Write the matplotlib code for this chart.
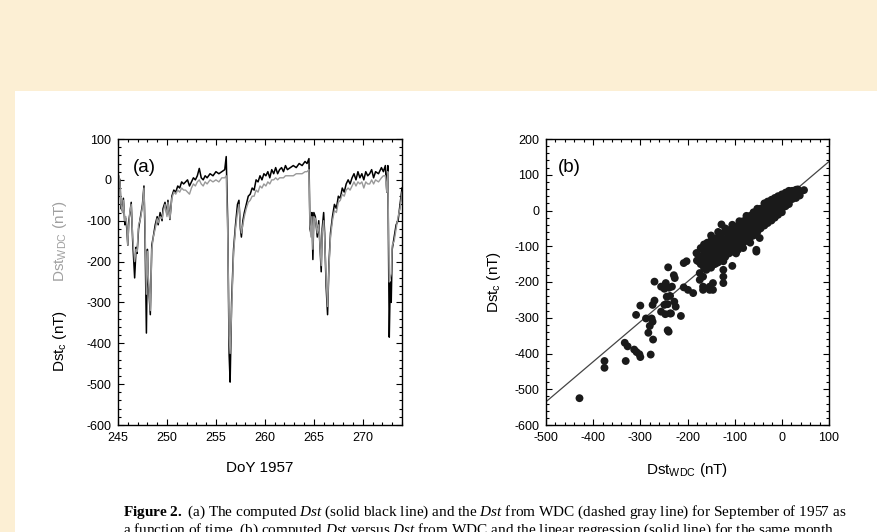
import matplotlib
matplotlib.use('Agg')
import matplotlib.pyplot as plt
from matplotlib.patches import Rectangle
from matplotlib.ticker import MultipleLocator

plt.rcParams['font.family'] = ['Liberation Sans', 'DejaVu Sans']
plt.rcParams['axes.unicode_minus'] = False
plt.rcParams['mathtext.fontset'] = 'custom'
plt.rcParams['mathtext.rm'] = 'Liberation Serif'
plt.rcParams['mathtext.it'] = 'Liberation Serif:italic'
plt.rcParams['mathtext.bf'] = 'Liberation Serif:bold'

# (a) time series, September 1957
doy = [245.0, 245.1, 245.2, 245.3, 245.45, 245.55, 245.7, 245.8, 245.9, 246.0,
       246.1, 246.2, 246.35, 246.5, 246.7, 246.85, 246.95, 247.1, 247.3, 247.5,
       247.65, 247.75, 247.9, 248.0, 248.1, 248.3, 248.45, 248.6, 248.8, 249.0,
       249.1, 249.3, 249.5, 249.6, 249.8, 250.0, 250.1, 250.3, 250.5, 250.7,
       250.9, 251.1, 251.3, 251.5, 251.7, 251.9, 252.1, 252.3, 252.5, 252.7,
       252.9, 253.1, 253.3, 253.5, 253.7, 253.9, 254.1, 254.4, 254.7, 255.0,
       255.3, 255.6, 255.9, 256.05, 256.2, 256.35, 256.45, 256.6, 256.8, 257.0,
       257.2, 257.35, 257.5, 257.6, 257.75, 257.9, 258.1, 258.3, 258.5, 258.7,
       258.9, 259.1, 259.3, 259.5, 259.7, 259.9, 260.1, 260.3, 260.5, 260.7,
       260.9, 261.1, 261.3, 261.5, 261.7, 261.9, 262.1, 262.3, 262.6, 262.9,
       263.2, 263.5, 263.8, 264.1, 264.3, 264.5, 264.6, 264.7, 264.8, 264.9,
       265.0, 265.15, 265.35, 265.5, 265.75, 265.85, 266.0, 266.1, 266.25, 266.4,
       266.55, 266.7, 266.9, 267.1, 267.3, 267.5, 267.7, 267.9, 268.1, 268.3,
       268.5, 268.7, 268.9, 269.1, 269.3, 269.5, 269.7, 269.9, 270.1, 270.3,
       270.5, 270.7, 270.9, 271.1, 271.3, 271.6, 271.9, 272.1, 272.3, 272.45,
       272.55, 272.7, 272.8, 272.9, 273.0, 273.2, 273.4, 273.6, 273.8, 274.0]
dst_calc = [15, 5, 0, -70, -75, -45, -110, -95, -120, -160,
            -100, -85, -55, -150, -240, -165, -180, -120, -90, -60,
            -15, -120, -375, -170, -250, -330, -160, -140, -110, -90,
            -110, -80, -100, -70, -55, -85, -50, -97, -40, -25,
            -30, -15, -20, -5, -10, -5, 0, -15, -5, 5,
            0, 10, 28, 5, 0, 10, 5, 15, 10, 20,
            15, 20, 25, 57, -100, -430, -495, -300, -170, -110,
            -60, -50, -120, -140, -100, -80, -60, -40, -35, -20,
            -25, 0, -5, 10, 0, 15, 10, 20, 5, 25,
            15, 30, 15, 25, 30, 20, 35, 25, 30, 35,
            30, 40, 35, 45, 40, 52, -120, -130, -80, -195,
            -80, -90, -140, -100, -225, -120, -80, -130, -260, -330,
            -200, -130, -90, -60, -70, -40, -45, -20, -30, -10,
            0, -10, 5, 15, 0, 20, 5, 15, 0, 20,
            10, 15, 25, 5, 20, 15, 30, 20, 35, -30,
            35, -385, -250, -300, -170, -140, -110, -100, -60, -20]
dst_wdc = [0, 10, -5, -60, -80, -50, -100, -90, -110, -160,
           -110, -80, -60, -140, -200, -170, -175, -110, -95, -65,
           -20, -100, -280, -175, -240, -320, -170, -140, -120, -95,
           -105, -90, -95, -80, -60, -90, -55, -95, -45, -30,
           -35, -25, -30, -20, -25, -25, -30, -35, -20, -10,
           -15, -5, 0, -10, -15, -5, -10, 0, -5, 0,
           -5, 5, 5, 10, -130, -380, -425, -320, -180, -120,
           -80, -60, -110, -130, -110, -90, -70, -55, -50, -40,
           -40, -25, -30, -15, -20, -10, -15, -5, -10, 0,
           0, 5, 0, 5, 5, 5, 10, 10, 10, 10,
           15, 15, 15, 20, 20, 25, -110, -140, -90, -170,
           -90, -95, -130, -110, -210, -130, -100, -140, -240, -310,
           -210, -140, -100, -75, -80, -55, -50, -35, -40, -25,
           -20, -25, -15, -5, -15, -5, -10, -5, -20, -5,
           -10, -10, 0, -10, 0, -5, 5, 10, 10, -30,
           20, -250, -240, -230, -160, -150, -120, -90, -70, -30]

# (b) scatter: Dst from WDC vs computed Dst
scatter_wdc = [-429, -376, -376, -331, -333, -327, -313, -308, -302, -300,
               -278, -273, -283, -280, -274, -276, -288, -309, -300, -274,
               -270, -247, -242, -240, -256, -249, -237, -235, -214, -242,
               -244, -237, -228, -225, -270, -256, -246, -241, -229, -227,
               -233, -249, -239, -208, -208, -202, -199, -188, -174, -174,
               -167, -167, -153, -146, -167, -153, -160, -181, -167, -177,
               -139, -146, -124, -124, -124, -124, -105, -128, -93, -82,
               -54, -54, -47, -75, -64, 34, 47,
               -180, -180, -172, -172, -172, -165, -165, -165, -165,
               -158, -158, -158, -158, -150, -150, -150, -150, -150, -150,
               -142, -142, -142, -142, -142, -135, -135, -135, -135, -135, -135,
               -128, -128, -128, -128, -128, -120, -120, -120, -120, -120, -120,
               -112, -112, -112, -112, -112, -105, -105, -105, -105, -105, -105,
               -97, -97, -97, -97, -97, -97, -90, -90, -90, -90, -90, -90,
               -82, -82, -82, -82, -82, -82, -75, -75, -75, -75, -75, -75,
               -67, -67, -67, -67, -67, -67, -60, -60, -60, -60, -60, -60,
               -52, -52, -52, -52, -52, -52, -45, -45, -45, -45, -45,
               -37, -37, -37, -37, -37, -37, -30, -30, -30, -30, -30, -30,
               -22, -22, -22, -22, -22, -22, -15, -15, -15, -15, -15, -15,
               -8, -8, -8, -8, -8, -8, 0, 0, 0, 0, 0, 0,
               8, 8, 8, 8, 8, 15, 15, 15, 15, 15, 22, 22, 22, 30, 30, 30, 38, 38]
scatter_calc = [-525, -421, -440, -421, -370, -380, -389, -396, -402, -410,
                -403, -361, -342, -323, -311, -302, -302, -292, -266, -264,
                -252, -290, -335, -339, -283, -264, -288, -288, -295, -262,
                -241, -239, -255, -269, -199, -213, -203, -159, -181, -189,
                -213, -219, -216, -147, -215, -142, -222, -231, -175, -194,
                -185, -213, -213, -203, -222, -222, -166, -119, -128, -142,
                -147, -222, -166, -142, -185, -203, -155, -39, -110, -72,
                -110, -115, -77, -25, -34, 59, 57,
                -120, -140, -105, -130, -150, -95, -115, -135, -160,
                -90, -110, -130, -150, -70, -85, -100, -120, -140, -160,
                -80, -95, -115, -135, -150, -60, -75, -90, -110, -125, -145,
                -65, -85, -100, -120, -135, -50, -60, -80, -95, -110, -130,
                -55, -70, -90, -105, -120, -40, -50, -65, -80, -100, -115,
                -45, -60, -75, -90, -105, -120, -30, -40, -55, -70, -85, -100,
                -30, -45, -60, -75, -90, -105, -15, -25, -40, -55, -70, -85,
                -15, -30, -45, -60, -75, -90, -5, -10, -25, -40, -55, -70,
                5, -5, -18, -32, -45, -60, 5, -10, -25, -40, -50,
                20, 10, -5, -18, -30, -42, 25, 15, 2, -10, -22, -35,
                30, 22, 10, -2, -15, -28, 35, 28, 15, 5, -8, -20,
                40, 35, 22, 10, -2, -12, 45, 40, 28, 15, 5, -5,
                50, 45, 35, 22, 12, 55, 50, 40, 28, 18, 55, 42, 32, 58, 45, 35, 50, 42]
fit_slope = 1.12
fit_intercept = 25

doy_ticks = [245, 250, 255, 260, 265, 270]

fig = plt.figure(figsize=(8.78, 5.32), dpi=100)
fig.patch.set_facecolor('#fcefd4')
# white page area behind the figure
fig.patches.append(Rectangle((15 / 878, 0), 1, 1 - 91 / 532, transform=fig.transFigure,
                             facecolor='white', edgecolor='none', zorder=-5))


def style_axes(ax):
    ax.tick_params(which='both', direction='in', top=True, right=True, labelsize=9,
                   width=0.8, pad=5)
    ax.tick_params(which='major', length=4)
    ax.tick_params(which='minor', length=2.2)
    for s in ax.spines.values():
        s.set_linewidth(1.0)
    ax.set_facecolor('white')


ax1 = fig.add_axes([118 / 878, 1 - 425 / 532, 284 / 878, 286 / 532])
ax1.plot(doy, dst_calc, color='black', lw=1.1)
ax1.plot(doy, dst_wdc, color='#999999', lw=1.0)
ax1.set_xlim(245, 274)
ax1.set_ylim(-600, 100)
ax1.set_xticks(doy_ticks)
ax1.xaxis.set_minor_locator(MultipleLocator(1))
ax1.yaxis.set_major_locator(MultipleLocator(100))
ax1.yaxis.set_minor_locator(MultipleLocator(20))
style_axes(ax1)
ax1.text(0.052, 0.90, '(a)', transform=ax1.transAxes, fontsize=13.5, va='center')
ax1.set_xlabel('DoY 1957', fontsize=11, labelpad=12)
fig.text(60 / 878, 1 - 341 / 532, r'Dst$_\mathregular{c}$ (nT)', rotation=90,
         ha='center', va='center', fontsize=11)
fig.text(60 / 878, 1 - 241 / 532, r'Dst$_\mathregular{WDC}$ (nT)', rotation=90,
         ha='center', va='center', fontsize=11, color='#a0a0a0')

ax2 = fig.add_axes([546 / 878, 1 - 425 / 532, 283 / 878, 286 / 532])
ax2.scatter(scatter_wdc, scatter_calc, s=32, color='#1a1a1a', edgecolors='none', zorder=3)
xx = [-500, 100]
ax2.plot(xx, [fit_slope * x + fit_intercept for x in xx], color='#444444', lw=0.9, zorder=2)
ax2.set_xlim(-500, 100)
ax2.set_ylim(-600, 200)
ax2.xaxis.set_major_locator(MultipleLocator(100))
ax2.xaxis.set_minor_locator(MultipleLocator(20))
ax2.yaxis.set_major_locator(MultipleLocator(100))
ax2.yaxis.set_minor_locator(MultipleLocator(20))
style_axes(ax2)
ax2.text(0.042, 0.90, '(b)', transform=ax2.transAxes, fontsize=13.5, va='center')
ax2.set_xlabel(r'Dst$_\mathregular{WDC}$ (nT)', fontsize=11, labelpad=12)
ax2.set_ylabel(r'Dst$_\mathregular{c}$ (nT)', fontsize=11, labelpad=8)

cap1 = (r'$\mathbf{Figure\ 2.}$ (a) The computed $\mathit{Dst}$ (solid black line) and the '
        r'$\mathit{Dst}$ from WDC (dashed gray line) for September of 1957 as')
cap2 = (r'a function of time. (b) computed $\mathit{Dst}$ versus $\mathit{Dst}$ from WDC and the '
        r'linear regression (solid line) for the same month.')
fig.text(123 / 878, 1 - 512 / 532, cap1, family='Liberation Serif', fontsize=11, va='center')
fig.text(123 / 878, 1 - 530 / 532, cap2, family='Liberation Serif', fontsize=11, va='center')

fig.savefig('out.png', dpi=100, facecolor=fig.get_facecolor())
